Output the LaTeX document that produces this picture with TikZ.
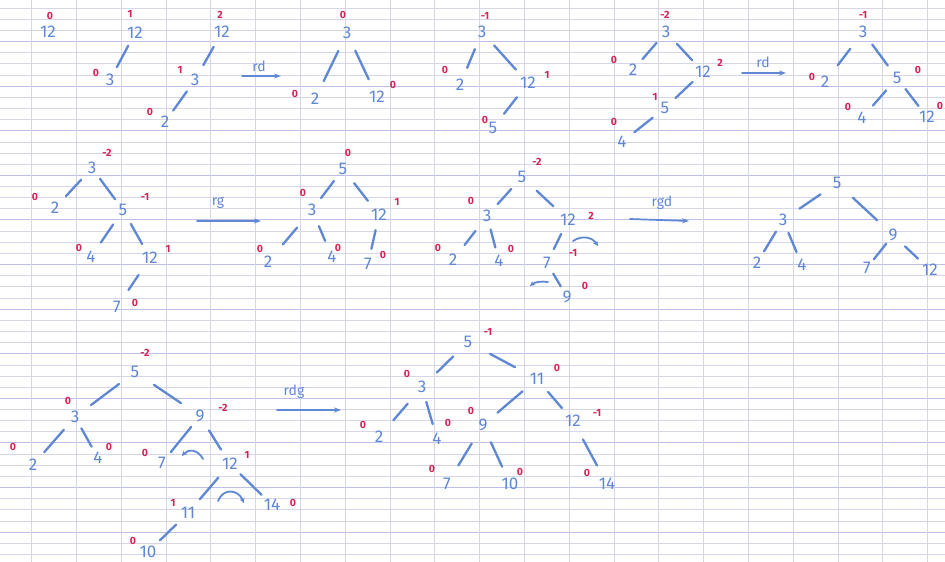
\documentclass[tikz,border=0pt]{standalone}
\usepackage{fontspec}
\setmainfont{Fira Sans}
\usetikzlibrary{arrows.meta}
\definecolor{ink}{RGB}{95,135,212}
\definecolor{redink}{RGB}{212,35,85}
\definecolor{ruleline}{RGB}{214,214,232}
\definecolor{rulebold}{RGB}{190,190,235}
\newcommand\treenum[3]{\node[num] (#1) at (#2) {#3};}
\newcommand\balmark[3]{\node[bal] (#1) at (#2) {#3};}
\newcommand\treelink[3]{\draw[branch=#3] (#1.center) -- (#2.center);}
\begin{document}
\begin{tikzpicture}[x=1pt,y=-1pt,
  num/.style={text=ink,font=\fontsize{17}{17}\selectfont,inner sep=1pt},
  bal/.style={text=redink,font=\bfseries\fontsize{10.5}{10.5}\selectfont,inner sep=0pt},
  branch/.style={draw=ink,line width=2.3pt,line cap=round,shorten <=#1,shorten >=#1},
  branch/.default=15pt,
  turn/.style={draw=ink,line width=1.8pt,line cap=round,-{Stealth[length=5pt,width=5pt]}},
  bigarrow/.style={draw=ink,line width=1.7pt,line cap=round,-{Stealth[length=7pt,width=5pt]}},
  arrlabel/.style={text=ink,font=\fontsize{14}{14}\selectfont,inner sep=0pt}]
\fill[white] (0,0) rectangle (945,562);
\useasboundingbox (0,0) rectangle (945,562);
% ruled paper
\foreach \n in {0,...,49}{
  \pgfmathsetmacro\yy{8+11.15*\n}
  \pgfmathtruncatemacro\mm{mod(\n,4)}
  \ifnum\mm=3
    \draw[rulebold,line width=0.8pt] (0,\yy) -- (945,\yy);
  \else
    \draw[ruleline,line width=0.6pt] (0,\yy) -- (945,\yy);
  \fi
}
\foreach \k in {0,...,20}{
  \draw[ruleline,line width=0.7pt] (31.6+44.8*\k,0) -- (31.6+44.8*\k,562);
}
% ---------- Tree A
\treenum{a12}{48,32}{12}
\balmark{ba12}{50,16}{0}
% ---------- Tree B
\treenum{b12}{135,33}{12}
\treenum{b3}{110,80}{3}
\treelink{b12}{b3}{14.5pt}
\balmark{bb12}{130,14}{1}
\balmark{bb3}{96,73}{0}
% ---------- Tree C
\treenum{c12}{222,32}{12}
\treenum{c3}{195,80}{3}
\treenum{c2}{165,122}{2}
\treelink{c12}{c3}{17pt}
\treelink{c3}{c2}{14pt}
\balmark{bc12}{220,15}{2}
\balmark{bc3}{180,70}{1}
\balmark{bc2}{150,112}{0}
% arrow rd
\coordinate (r1s) at (242,76);
\coordinate (r1e) at (281,76);
\draw[bigarrow] (r1s) -- (r1e);
\node[arrlabel] (r1l) at (259,66) {rd};
% ---------- Tree D
\treenum{d3}{347,33}{3}
\treenum{d2}{315,99}{2}
\treenum{d12}{377,97}{12}
\treelink{d3}{d2}{20pt}
\treelink{d3}{d12}{19.5pt}
\balmark{bd3}{343,15}{0}
\balmark{bd2}{295,94}{0}
\balmark{bd12}{393,85}{0}
% ---------- Tree E
\treenum{e3}{482,32}{3}
\treenum{e2}{460,85}{2}
\treenum{e12}{528,83}{12}
\treenum{e5}{493,128}{5}
\treelink{e3}{e2}{18.5pt}
\treelink{e3}{e12}{18pt}
\treelink{e12}{e5}{18pt}
\balmark{be3}{485,16}{-1}
\balmark{be2}{445,70}{0}
\balmark{be12}{547,75}{1}
\balmark{be5}{485,120}{0}
% ---------- Tree F
\treenum{f3}{666,32}{3}
\treenum{f2}{633,70}{2}
\treenum{f12}{703,72}{12}
\treenum{f5}{665,108}{5}
\treenum{f4}{622,142}{4}
\treelink{f3}{f2}{14.5pt}
\treelink{f3}{f12}{16pt}
\treelink{f12}{f5}{14.5pt}
\treelink{f5}{f4}{15.7pt}
\balmark{bf3}{665,15}{-2}
\balmark{bf2}{614,60}{0}
\balmark{bf12}{720,63}{2}
\balmark{bf5}{655,97}{1}
\balmark{bf4}{614,122}{0}
% arrow rd
\coordinate (r2s) at (742,73);
\coordinate (r2e) at (786,73);
\draw[bigarrow] (r2s) -- (r2e);
\node[arrlabel] (r2l) at (763,62) {rd};
% ---------- Tree G
\treenum{g3}{863,32}{3}
\treenum{g2}{825,82}{2}
\treenum{g5}{897,78}{5}
\treenum{g4}{862,118}{4}
\treenum{g12}{927,117}{12}
\treelink{g3}{g2}{21pt}
\treelink{g3}{g5}{15.5pt}
\treelink{g5}{g4}{16.5pt}
\treelink{g5}{g12}{14pt}
\balmark{bg3}{863,15}{-1}
\balmark{bg2}{812,77}{0}
\balmark{bg5}{918,70}{0}
\balmark{bg4}{848,107}{0}
\balmark{bg12}{940,106}{0}
% ---------- Tree H
\treenum{h3}{92,168}{3}
\treenum{h2}{55,208}{2}
\treenum{h5}{123,210}{5}
\treenum{h4}{91,257}{4}
\treenum{h12}{150,258}{12}
\treenum{h7}{117,307}{7}
\treelink{h3}{h2}{16pt}
\treelink{h3}{h5}{13.5pt}
\treelink{h5}{h4}{17.5pt}
\treelink{h5}{h12}{16pt}
\treelink{h12}{h7}{20.5pt}
\balmark{bh3}{107,153}{-2}
\balmark{bh2}{35,197}{0}
\balmark{bh5}{145,197}{-1}
\balmark{bh4}{79,248}{0}
\balmark{bh12}{168,249}{1}
\balmark{bh7}{135,303}{0}
% arrow rg
\coordinate (r3s) at (197,221);
\coordinate (r3e) at (261,221);
\draw[bigarrow] (r3s) -- (r3e);
\node[arrlabel] (r3l) at (218,203) {rg};
% ---------- Tree I
\treenum{i5}{343,169}{5}
\treenum{i3}{312,210}{3}
\treenum{i12}{379,215}{12}
\treenum{i2}{268,262}{2}
\treenum{i4}{332,257}{4}
\treenum{i7}{368,264}{7}
\treelink{i5}{i3}{15pt}
\treelink{i5}{i12}{18pt}
\treelink{i3}{i2}{23pt}
\treelink{i3}{i4}{17.5pt}
\treelink{i12}{i7}{15.5pt}
\balmark{bi5}{348,153}{0}
\balmark{bi3}{303,193}{0}
\balmark{bi12}{397,202}{1}
\balmark{bi2}{260,249}{0}
\balmark{bi4}{338,248}{0}
\balmark{bi7}{383,255}{0}
% ---------- Tree J
\treenum{j5}{522,177}{5}
\treenum{j3}{487,216}{3}
\treenum{j12}{568,220}{12}
\treenum{j2}{453,260}{2}
\treenum{j4}{499,261}{4}
\treenum{j7}{547,263}{7}
\treenum{j9}{567,297}{9}
\treelink{j5}{j3}{16pt}
\treelink{j5}{j12}{20pt}
\treelink{j3}{j2}{19pt}
\treelink{j3}{j4}{14pt}
\treelink{j12}{j7}{15.5pt}
\treelink{j7}{j9}{12.3pt}
\balmark{bj5}{537,162}{-2}
\balmark{bj3}{471,201}{0}
\balmark{bj12}{591,216}{2}
\balmark{bj2}{438,248}{0}
\balmark{bj4}{511,249}{0}
\balmark{bj7}{573,253}{-1}
\balmark{bj9}{585,286}{0}
\draw[turn] (573,241) .. controls (582,235) and (592,237) .. (598,246);
\draw[turn] (548,282) .. controls (541,281) and (535,282) .. (530,286);
% arrow rgd
\coordinate (r4s) at (630,219);
\coordinate (r4e) at (689,221);
\draw[bigarrow] (r4s) -- (r4e);
\node[arrlabel] (r4l) at (662,203) {rgd};
% ---------- Tree K
\treenum{k5}{837,183}{5}
\treenum{k3}{783,220}{3}
\treenum{k9}{893,235}{9}
\treenum{k2}{757,263}{2}
\treenum{k4}{802,265}{4}
\treenum{k7}{867,268}{7}
\treenum{k12}{930,270}{12}
\treelink{k5}{k3}{20pt}
\treelink{k5}{k9}{21.5pt}
\treelink{k3}{k2}{13.5pt}
\treelink{k3}{k4}{14pt}
\treelink{k9}{k7}{11pt}
\treelink{k9}{k12}{16.5pt}
% ---------- Tree L
\treenum{l5}{135,372}{5}
\treenum{l3}{75,417}{3}
\treenum{l9}{200,416}{9}
\treenum{l2}{33,465}{2}
\treenum{l4}{98,458}{4}
\treenum{l7}{162,463}{7}
\treenum{l12}{230,464}{12}
\treenum{l11}{188,513}{11}
\treenum{l14}{272,505}{14}
\treenum{l10}{148,552}{10}
\treelink{l5}{l3}{20pt}
\treelink{l5}{l9}{23pt}
\treelink{l3}{l2}{17pt}
\treelink{l3}{l4}{13pt}
\treelink{l9}{l7}{14pt}
\treelink{l9}{l12}{17pt}
\treelink{l12}{l11}{18pt}
\treelink{l12}{l14}{14.5pt}
\treelink{l11}{l10}{16.7pt}
\balmark{bl5}{145,353}{-2}
\balmark{bl3}{68,401}{0}
\balmark{bl9}{223,408}{-2}
\balmark{bl2}{13,447}{0}
\balmark{bl4}{109,447}{0}
\balmark{bl7}{145,453}{0}
\balmark{bl12}{247,455}{1}
\balmark{bl11}{173,503}{1}
\balmark{bl10}{133,541}{0}
\balmark{bl14}{293,503}{0}
\draw[turn] (203,459) .. controls (198,449) and (188,449) .. (182,456);
\draw[turn] (218,501) .. controls (223,488) and (238,489) .. (244,503);
% arrow rdg
\coordinate (r5s) at (277,410);
\coordinate (r5e) at (341,410);
\draw[bigarrow] (r5s) -- (r5e);
\node[arrlabel] (r5l) at (294,392) {rdg};
% ---------- Tree M
\treenum{m5}{468,342}{5}
\treenum{m3}{422,387}{3}
\treenum{m11}{537,379}{11}
\treenum{m2}{379,437}{2}
\treenum{m4}{437,439}{4}
\treenum{m9}{483,425}{9}
\treenum{m12}{573,421}{12}
\treenum{m7}{447,484}{7}
\treenum{m10}{510,484}{10}
\treenum{m14}{607,484}{14}
\treelink{m5}{m3}{20.7pt}
\treelink{m5}{m11}{25pt}
\treelink{m3}{m2}{22pt}
\treelink{m3}{m4}{15.5pt}
\treelink{m11}{m9}{19pt}
\treelink{m11}{m12}{17pt}
\treelink{m9}{m7}{21.7pt}
\treelink{m9}{m10}{19pt}
\treelink{m12}{m14}{21pt}
\balmark{bm5}{488,332}{-1}
\balmark{bm3}{407,374}{0}
\balmark{bm11}{557,368}{0}
\balmark{bm2}{363,425}{0}
\balmark{bm4}{448,423}{0}
\balmark{bm9}{471,411}{0}
\balmark{bm12}{597,413}{-1}
\balmark{bm7}{432,469}{0}
\balmark{bm10}{520,472}{0}
\balmark{bm14}{587,473}{0}
\end{tikzpicture}
\end{document}
